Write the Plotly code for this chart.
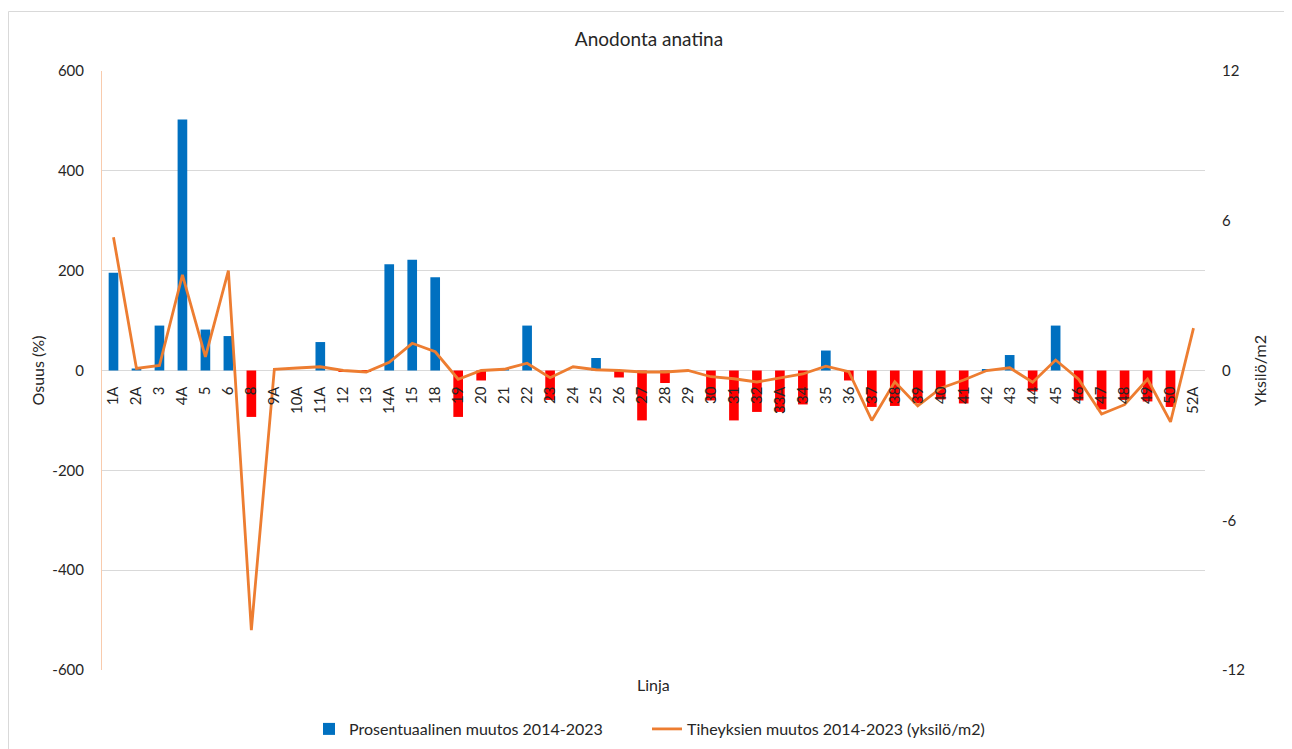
import plotly.graph_objects as go

categories = ["1A", "2A", "3", "4A", "5", "6", "8", "9A", "10A", "11A", "12", "13", "14A", "15", "18",
              "19", "20", "21", "22", "23", "24", "25", "26", "27", "28", "29", "30", "31", "32", "33A",
              "34", "35", "36", "37", "38", "39", "40", "41", "42", "43", "44", "45", "46", "47", "48",
              "49", "50", "52A"]

pct_change = [196, 4, 90, 503, 82, 69, -93, 0, 0, 57, -2, -3, 213, 222, 187,
              -93, -20, 4, 90, -59, 0, 25, -14, -100, -25, 0, -60, -100, -83, -83,
              -68, 40, -20, -73, -71, -66, -58, -66, 2, 31, -42, 90, -60, -78, -59,
              -62, -73, 0]

density_change = [5.34, 0.08, 0.2, 3.83, 0.55, 4.0, -10.4, 0.05, 0.1, 0.15, 0.0, -0.06, 0.33, 1.09, 0.75,
                  -0.35, 0.0, 0.05, 0.29, -0.29, 0.15, 0.03, 0.0, -0.06, -0.06, 0.0, -0.25, -0.33, -0.46, -0.31,
                  -0.14, 0.17, -0.05, -2.0, -0.45, -1.42, -0.71, -0.38, 0.0, 0.11, -0.47, 0.42, -0.35, -1.74, -1.37,
                  -0.35, -2.06, 1.7]

left_tick_vals = [-600, -400, -200, 0, 200, 400, 600]
left_tick_text = ["-600", "-400", "-200", "0", "200", "400", "600"]
right_tick_vals = [-12, -6, 0, 6, 12]
right_tick_text = ["-12", "-6", "0", "6", "12"]

BLUE = "#0070C0"
RED = "#FF0000"
ORANGE = "#ED7D31"
FONT = "Lato"
TXT = "#262626"

bar_colors = [BLUE if v >= 0 else RED for v in pct_change]

fig = go.Figure()
fig.add_trace(go.Bar(
    x=categories, y=pct_change, name="Prosentuaalinen muutos 2014-2023",
    marker=dict(color=bar_colors, line=dict(width=0)), width=0.42, yaxis="y",
    legend="legend",
))
fig.add_trace(go.Scatter(
    x=categories, y=density_change, name="Tiheyksien muutos 2014-2023 (yksilö/m2)",
    mode="lines", line=dict(color=ORANGE, width=2.8), yaxis="y2",
    legend="legend2",
))

W, H = 1284, 741
PW, PH = 1103.0, 599.0  # plot area size in px


def px_x(page_x):
    return (page_x - 102) / PW


def px_y(page_y):
    return (670 - page_y) / PH


def cx(page_x):
    return (page_x - 8) / W


def cy(page_y):
    return 1 - (page_y - 8) / H


fig.update_layout(
    width=W, height=H,
    margin=dict(l=94, r=87, t=63, b=79, autoexpand=False),
    paper_bgcolor="white", plot_bgcolor="white",
    font=dict(family=FONT, size=15, color=TXT),
    title=dict(text="Anodonta anatina", x=px_x(649), xref="paper", xanchor="center",
               y=cy(39), yanchor="middle", font=dict(size=19, color=TXT)),
    showlegend=True,
    legend=dict(orientation="h", xref="container", yref="container",
                x=cx(309), xanchor="left", y=cy(729), yanchor="middle",
                font=dict(size=16, color=TXT), bgcolor="rgba(0,0,0,0)"),
    legend2=dict(orientation="h", xref="container", yref="container",
                 x=cx(647), xanchor="left", y=cy(729), yanchor="middle",
                 font=dict(size=16, color=TXT), bgcolor="rgba(0,0,0,0)"),
    xaxis=dict(
        type="category", anchor="free", position=0.5, tickangle=-90, automargin=False,
        showgrid=False, showline=False, zeroline=False, ticks="", ticklabelstandoff=12,
        tickfont=dict(size=15, color=TXT), range=[-0.5, len(categories) - 0.5],
    ),
    yaxis=dict(
        range=[-600, 600], tickvals=left_tick_vals, ticktext=left_tick_text, automargin=False,
        showgrid=True, gridcolor="#D9D9D9", gridwidth=1,
        zeroline=True, zerolinecolor="#D9D9D9", zerolinewidth=1,
        showline=True, linecolor="#F8CBAD", linewidth=1, ticks="", ticklabelstandoff=14,
        tickfont=dict(size=15, color=TXT),
        title=dict(text="Osuus (%)", font=dict(size=16, color=TXT), standoff=3),
    ),
    yaxis2=dict(
        range=[-12, 12], tickvals=right_tick_vals, ticktext=right_tick_text, automargin=False,
        overlaying="y", side="right",
        showgrid=False, zeroline=False, showline=False, ticks="", ticklabelstandoff=16,
        tickfont=dict(size=15, color=TXT),
        title=dict(text="Yksilö/m2", font=dict(size=16, color=TXT), standoff=10),
    ),
    annotations=[dict(text="Linja", xref="paper", yref="paper", x=px_x(653), y=px_y(685),
                      xanchor="center", yanchor="middle", showarrow=False,
                      font=dict(size=16, color=TXT))],
    shapes=[dict(type="rect", xref="paper", yref="paper",
                 x0=px_x(8.5), x1=px_x(1290.5),
                 y0=px_y(800), y1=px_y(11.5),
                 line=dict(color="#D9D9D9", width=1), fillcolor="rgba(0,0,0,0)", layer="below")],
)

fig.write_html("out.html")
